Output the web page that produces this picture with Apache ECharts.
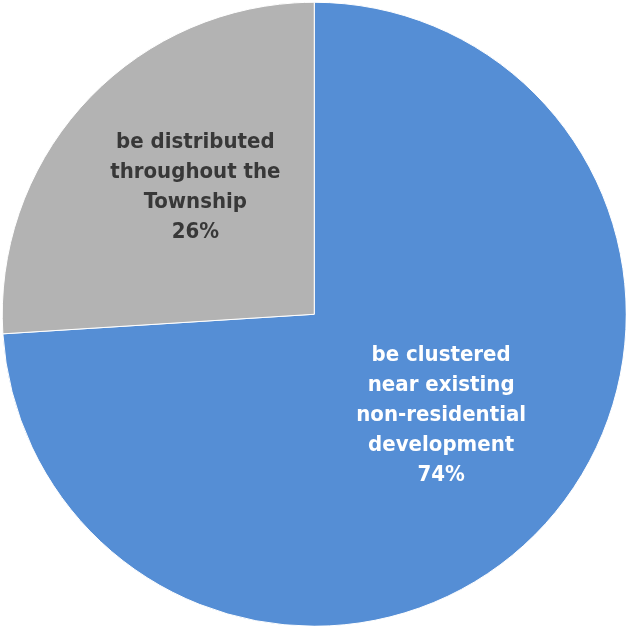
<!DOCTYPE html>
<html>
<head>
<meta charset="utf-8">
<style>
  html, body { margin: 0; padding: 0; background: #ffffff; }
  #chart { width: 626px; height: 626px; }
</style>
<script src="https://cdn.jsdelivr.net/npm/echarts@6/dist/echarts.min.js"></script>
</head>
<body>
<div id="chart"></div>
<script>
// Survey answer shares (percent)
const categories = [
  'be clustered\nnear existing\nnon-residential\ndevelopment',
  'be distributed\nthroughout the\nTownship'
];
const values = [74, 26];
const sliceColors = ['#558ED5', '#B3B3B3'];
const labelColors = ['#ffffff', '#383838'];
const labelOffsets = [[11, -8], [-3, -18]];

const chart = echarts.init(document.getElementById('chart'), null, { renderer: 'canvas' });

const data = categories.map((name, i) => ({
  name: name,
  value: values[i],
  itemStyle: { color: sliceColors[i] },
  label: { color: labelColors[i], offset: labelOffsets[i] }
}));

chart.setOption({
  animation: false,
  backgroundColor: '#ffffff',
  series: [{
    type: 'pie',
    center: ['50.2%', '50.2%'],
    radius: ['0%', '312px'],
    startAngle: 90,
    clockwise: true,
    data: data,
    itemStyle: { borderColor: '#ffffff', borderWidth: 1 },
    label: {
      show: true,
      position: 'inside',
      formatter: p => p.name + '\n' + p.value + '%',
      fontFamily: "'Liberation Sans Narrow', 'DejaVu Sans Condensed', sans-serif",
      fontWeight: 'bold',
      fontSize: 22,
      lineHeight: 30,
      align: 'center'
    },
    labelLine: { show: false },
    emphasis: { disabled: true }
  }]
});
</script>
</body>
</html>
